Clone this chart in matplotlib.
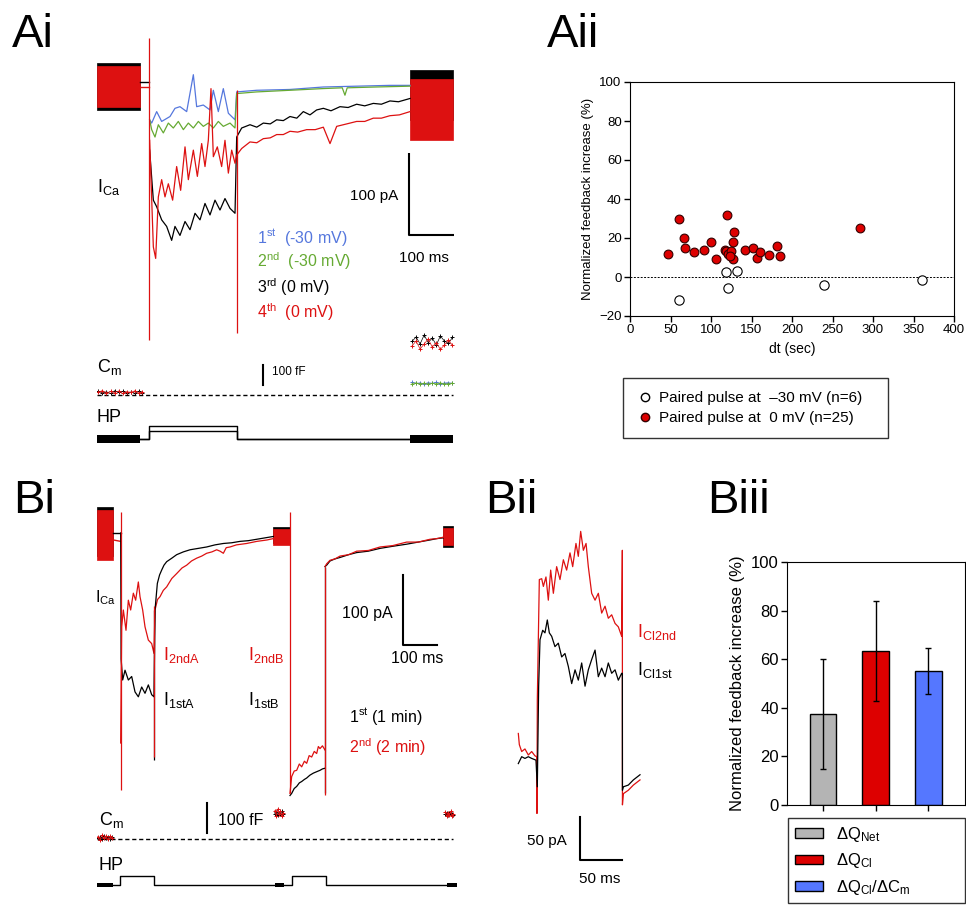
import matplotlib
matplotlib.use("Agg")
import matplotlib.pyplot as plt
from matplotlib.lines import Line2D
from matplotlib.patches import Patch

plt.rcParams["font.family"] = ["Liberation Sans", "DejaVu Sans"]
plt.rcParams["mathtext.fontset"] = "custom"
plt.rcParams["mathtext.rm"] = "Liberation Sans"
plt.rcParams["mathtext.it"] = "Liberation Sans:italic"
plt.rcParams["mathtext.default"] = "regular"

RED = "#dd1111"
BLUE = "#5577dd"
GREEN = "#66aa33"

# ---------------- Ai : I_Ca traces (ms, pA) ----------------
ai_pre_t = [0, 95.6]
ai_pre_blk = (-28, 29)
ai_pre_red = (-25, 26)
ai_post_t = [695.6, 791]
ai_post_blk = (-40, 21)
ai_post_red = (-65, 10)
ai_step_t = [95.6, 115.6]
ai_step_blk = [6, 6]
ai_step_red = [0, 0]

ai_t_blue = [117, 121.5, 132.6, 143.7, 162.2, 173.3, 184.4, 199.3, 214.1, 221.5, 236.3, 251.1,
             258.5, 269.6, 280.7, 291.9, 306.7, 310.4, 354.8, 428.9, 503, 577, 651, 695.6]
ai_v_blue = [-40, -44, -30, -42, -36, -26, -24, -30, 15, -24, -22, -28,
             -4, -30, -2, -32, -40, -6, -4, -3, 0, 1, 2, 2]

ai_t_green = [117, 121.5, 128.9, 136.3, 147.4, 158.5, 169.6, 180.7, 191.9, 203, 214.1, 225.2,
              236.3, 247.4, 258.5, 269.6, 280.7, 295.6, 306.7, 310.4, 354.8, 428.9, 500,
              545, 551, 556, 620, 695.6]
ai_v_green = [-40, -52, -61, -46, -56, -44, -50, -42, -52, -44, -50, -42,
              -48, -44, -50, -42, -48, -44, -50, -8, -6, -4, -2,
              -1, -10, -1, 0, 1]

ai_t_black = [117, 125.2, 132.6, 143.7, 154.8, 165.9, 173.3, 184.4, 195.6, 206.7, 217.8, 228.9,
              240, 251.1, 262.2, 273.3, 284.4, 295.6, 306.7, 310.4, 321.5, 340, 355, 369.6,
              385, 399.3, 414, 428.9, 444, 458.5, 473.3, 488, 503, 520, 540, 558, 577, 595,
              614, 632, 651, 670, 695.6]
ai_v_black = [-77, -138, -146, -162, -170, -187, -170, -181, -164, -174, -154, -162,
              -142, -156, -138, -150, -136, -148, -154, -61, -50, -46, -49, -44,
              -45, -40, -41, -36, -38, -30, -34, -28, -26, -29, -24, -25, -21, -23,
              -20, -21, -17, -18, -14]

ai_t_red = [117, 125.2, 130.4, 136.3, 143.7, 151.1, 158.5, 168.1, 177, 185.9, 195.6, 203,
            214.1, 223, 232.6, 240, 247.4, 253.3, 258.5, 267.4, 277, 284.4, 291.9, 299.3,
            306.7, 310.4, 321.5, 340, 355, 369.6, 385, 399.3, 414, 428.9, 446, 465.9, 485,
            503, 517.8, 532.6, 555, 577, 595, 614, 632, 651, 672, 695.6]
ai_v_red = [-65, -195, -209, -134, -113, -134, -118, -138, -97, -126, -73, -113,
            -77, -109, -69, -97, -65, -2, -85, -73, -97, -65, -105, -77,
            -93, -83, -75, -67, -68, -63, -62, -58, -58, -54, -55, -52, -52,
            -49, -69, -48, -45, -42, -42, -38, -38, -35, -34, -30]

ai_spike_t = [115.6, 310.4]
ai_spike_top = [60, -4]
ai_spike_bot = [-308, -300]

ai_legend = ["1$^{st}$  (-30 mV)", "2$^{nd}$  (-30 mV)", "3$^{rd}$ (0 mV)", "4$^{th}$  (0 mV)"]

# Ai : C_m (ms, fF)
ai_cm_pre_t = [3, 12, 21, 30, 39, 48, 57, 66, 75, 84, 93, 100]
ai_cm_pre_red = [14, 22, 9, 18, 12, 20, 8, 17, 13, 21, 10, 16]
ai_cm_pre_blk = [19, 11, 16, 8, 21, 13, 18, 10, 15, 9, 19, 12]
ai_cm_post_t = [700, 709, 718, 727, 736, 745, 754, 763, 772, 781, 790]
ai_cm_post_blue = [63, 58, 61, 56, 62, 59, 64, 57, 60, 62, 58]
ai_cm_post_green = [57, 61, 55, 60, 54, 58, 56, 61, 55, 57, 60]
ai_cm_post_red = [245, 270, 230, 255, 280, 240, 262, 228, 250, 275, 248]
ai_cm_post_blk = [268, 290, 255, 300, 262, 285, 250, 295, 270, 258, 288]

# Ai : holding potential (ms, mV)
ai_hp_t = [95.6, 115.6, 115.6, 310.4, 310.4, 695.6]
ai_hp_0 = [-80, -80, 0, 0, -80, -80]
ai_hp_30 = [-80, -80, -30, -30, -80, -80]
ai_hp_blocks = [(0, 95.6), (695.6, 791)]

# ---------------- Aii : scatter ----------------
red_dt = [47, 61, 67, 68, 79, 91, 100, 106, 120, 117, 118, 121, 125, 128, 127, 127, 123,
          142, 152, 157, 161, 171, 181, 185, 284]
red_inc = [12, 30, 20, 15, 13, 14, 18, 9, 32, 14, 13.5, 12, 13.5, 23, 18, 9, 11,
           14, 15, 10, 13, 11.5, 16, 11, 25]
open_dt = [61, 119, 121, 132, 240, 360]
open_inc = [-12, 2.5, -5.5, 3, -4, -1.5]

# ---------------- Bi : traces (ms, pA) ----------------
bi_pre_t = [0, 48]
bi_pre_blk = (-33, 37)
bi_pre_red = (-39, 33)
bi_step_t = [48, 69.6]
bi_step_blk = [0, 0]
bi_step_red = [-10, -12]

bi_t_red_a = [69.6, 72.5, 77.5, 85.3, 92.2, 99, 106.9, 113.7, 121.6, 126.5, 134.3, 141.2, 151,
              160.8, 167.6, 170.6, 178, 185.3, 195, 204.9, 220, 234.3, 250, 263.7, 278,
              293.1, 308, 322.5, 338, 352, 362, 371.6, 380, 391.2, 410, 440.2, 470, 500, 518.6]
bi_v_red_a = [-300, -134, -110, -139, -96, -110, -86, -96, -70, -91, -110, -134, -153,
              -158, -172, -110, -95, -91, -82, -77, -65, -58, -50, -46, -40,
              -36, -33, -29, -27, -24, -26, -29, -21, -20, -17, -15, -12, -10, -8]
bi_t_blk_a = [69.6, 71, 75.5, 82.4, 92.2, 102, 111.8, 121.6, 131.4, 141.2, 151, 160.8, 167.6,
              170.6, 177.5, 184, 190.2, 197, 204.9, 220, 234.3, 254, 273.5, 298, 322.5, 347,
              371.6, 396, 420.6, 445, 469.6, 494, 518.6]
bi_v_blk_a = [0, -180, -210, -196, -210, -205, -227, -234, -220, -229, -217, -231, -234,
              -110, -72, -60, -53, -46, -41, -36, -31, -27, -24, -22, -20, -17,
              -15, -14, -12, -11, -9, -7, -5]

bi_mid_t = [518.6, 567.6]
bi_mid_blk = (-15, 9)
bi_mid_red = (-17, 5)

bi_t_red_b = [567.6, 572.5, 580, 587.3, 595, 602, 610, 616.7, 624, 631.4, 639, 646.1, 651,
              655.9, 663, 670.6]
bi_v_red_b = [-372, -348, -340, -339, -330, -334, -326, -329, -318, -320, -312, -315, -305,
              -308, -304, -310]
bi_t_blk_b = [567.6, 572.5, 580, 587.3, 595, 602, 610, 616.7, 626, 636.3, 646, 655.9, 663, 670.6]
bi_v_blk_b = [-375, -372, -365, -362, -357, -355, -352, -350, -346, -343, -341, -339, -337, -336]

bi_t_tail = [670.6, 675.5, 685.3, 700, 714.7, 740, 763.7, 798, 832.4, 870, 910.8, 945, 979.4,
             1000, 1018.6]
bi_v_red_tail = [-48, -44, -39, -37, -33, -31, -26, -25, -20, -18, -13, -13, -9, -8, -6]
bi_v_blk_tail = [-48, -46, -40, -37, -35, -31, -28, -26, -22, -19, -16, -13, -10, -8, -7]

bi_end_t = [1018.6, 1048]
bi_end_blk = (-20, 10)
bi_end_red = (-17, 7)

bi_spike_red_t = [69.6, 167.6, 567.6, 670.6]
bi_spike_red_top = [30.5, -105, 30.5, -48]
bi_spike_red_bot = [-367, -320, -372, -374]
bi_spike_blk_t = [167.6, 670.6]
bi_spike_blk_top = [-110, -48]
bi_spike_blk_bot = [-324, -372]

# Bi : C_m (ms, fF)
bi_cm_t = [[2, 8, 14, 20, 26, 32, 38, 44],
           [523, 527, 531, 535, 539, 543, 547],
           [1024, 1028, 1032, 1036, 1040, 1044, 1048]]
bi_cm_red = [[8, -2, 12, 3, 10, -1, 9, 4],
             [95, 78, 100, 82, 92, 76, 88],
             [90, 76, 86, 80, 92, 78, 84]]
bi_cm_blk = [[2, 7, 0, 9, 3, 6, -1, 5],
             [85, 90, 80, 88, 84, 92, 82],
             [82, 86, 80, 88, 83, 85, 81]]

# Bi : holding potential (ms, mV)
bi_hp_t = [48, 67.6, 67.6, 167.6, 167.6, 523.5, 550, 572.5, 572.5, 673.5, 673.5, 1028]
bi_hp_v = [-80, -80, 0, 0, -80, -80, -80, -80, 0, 0, -80, -80]
bi_hp_blocks = [(0, 48), (523.5, 550), (1028, 1058)]

# ---------------- Bii : I_Cl traces (ms, pA) ----------------
bii_t_red = [0.4, 1.6, 4.4, 8.3, 12.3, 16.3, 20.2, 22.2, 22.6, 23, 25.4, 28.2, 30.2, 33.3, 36.1,
             38.9, 42.1, 46, 50, 54, 57.9, 61.9, 65.1, 69, 71.8, 74.6, 77.8, 81, 83.7, 87.7,
             91.7, 95.6, 99.6, 103.6, 107.5, 111.5, 115.5, 119.4, 123.4, 124.2, 124.3, 125.4,
             131.3, 137.3, 145.2]
bii_v_red = [25, 12, 4, 7, 0, 4, -1, -2, -68, 64, 204, 205, 196, 207, 180,
             215, 188, 219, 204, 227, 215, 235, 219, 246, 231, 260, 238, 246, 219, 188,
             180, 188, 165, 173, 159, 163, 153, 149, 138, 238, -58, -45,
             -41, -35, -29]
bii_t_blk = [0.4, 4.4, 8.3, 12.3, 16.3, 21.4, 23, 24.6, 26.2, 29.4, 32.1, 34.9, 37.3, 40.1, 44,
             48, 52, 55.9, 59.9, 63.9, 67.9, 71.8, 75.8, 79.8, 83.7, 87.7, 91.7, 95.6, 99.6,
             103.6, 107.5, 111.5, 115.5, 119.4, 123.4, 124.2, 124.3, 125.4, 131.3, 137.3, 145.2]
bii_v_blk = [-10, -2, -4, -2, -4, -6, -37, 80, 134, 145, 142, 157, 142, 138, 126,
             130, 114, 118, 103, 83, 99, 87, 107, 80, 99, 111, 122, 91, 101,
             91, 107, 95, 99, 87, 95, 95, -41, -37, -35, -29, -23]

# ---------------- Biii : bars ----------------
bar_labels = ["\u0394Q$_{Net}$", "\u0394Q$_{Cl}$", "\u0394Q$_{Cl}$/\u0394C$_m$"]
bar_means = [37.5, 63.3, 55.2]
bar_err = [22.5, 20.5, 9.5]
bar_colors = ["#b4b4b4", "#dd0000", "#5577ff"]

W, H = 966, 906
fig = plt.figure(figsize=(W / 100, H / 100), dpi=100)


def box(x0, y0, x1, y1):
    return fig.add_axes([x0 / W, 1 - y1 / H, (x1 - x0) / W, (y1 - y0) / H])


def ftext(x, y, s, **kw):
    fig.text(x / W, 1 - y / H, s, va="baseline", **kw)


def trace_ax(x0, y0, x1, y1, xlim, ylim):
    ax = box(x0, y0, x1, y1)
    ax.set_xlim(*xlim)
    ax.set_ylim(*ylim)
    ax.set_axis_off()
    return ax


def block(ax, t, env, color):
    ax.fill_between(t, [env[0]] * 2, [env[1]] * 2, color=color, lw=0.5)


LW = 0.9

# ===== Ai =====
ax = trace_ax(97, 35, 457, 345, (0, 800), (-314.6, 63.4))
block(ax, ai_pre_t, ai_pre_blk, "black")
block(ax, ai_pre_t, ai_pre_red, RED)
block(ax, ai_post_t, ai_post_blk, "black")
block(ax, ai_post_t, ai_post_red, RED)
ax.plot(ai_step_t, ai_step_blk, color="black", lw=1)
ax.plot(ai_step_t, ai_step_red, color=RED, lw=1)
ax.plot(ai_t_black, ai_v_black, color="black", lw=LW)
ax.plot(ai_t_blue, ai_v_blue, color=BLUE, lw=LW)
ax.plot(ai_t_green, ai_v_green, color=GREEN, lw=LW)
ax.plot(ai_t_red, ai_v_red, color=RED, lw=LW)
ax.vlines(ai_spike_t, ai_spike_bot, ai_spike_top, color=RED, lw=0.9)
# scale bar 100 pA / 100 ms
ax.plot([693, 693, 793], [-80, -180, -180], color="black", lw=1.5, solid_capstyle="butt")
ax.text(669, -137.8, "100 pA", ha="right", va="baseline", fontsize=11)
ax.text(725.6, -213, "100 ms", ha="center", va="baseline", fontsize=11)
for lab, col, yy in zip(ai_legend, [BLUE, GREEN, "black", RED], [-190, -219.5, -251, -281.7]):
    ax.text(355.6, yy, lab, color=col, ha="left", va="baseline", fontsize=11.5)

ax = trace_ax(97, 330, 457, 400, (0, 800), (-25, 325))
ax.plot([0, 791], [0, 0], color="black", lw=1, ls=(0, (3, 2)))
for t, v, c in [(ai_cm_pre_t, ai_cm_pre_blk, "black"), (ai_cm_pre_t, ai_cm_pre_red, RED),
                (ai_cm_post_t, ai_cm_post_blue, BLUE), (ai_cm_post_t, ai_cm_post_green, GREEN),
                (ai_cm_post_t, ai_cm_post_blk, "black"), (ai_cm_post_t, ai_cm_post_red, RED)]:
    ax.plot(t, v, color=c, lw=0.5, marker="+", ms=3, mew=0.7)
ax.plot([368, 368], [50, 150], color="black", lw=1.5)
ax.text(389, 100, "100 fF", ha="left", va="baseline", fontsize=8.5)

ax = trace_ax(97, 405, 457, 450, (0, 800), (-148, 129))
ax.plot(ai_hp_t, ai_hp_0, color="black", lw=1)
ax.plot(ai_hp_t, ai_hp_30, color="black", lw=1)
for a, b in ai_hp_blocks:
    ax.fill_between([a, b], [-104, -104], [-56, -56], color="black", lw=0)

ftext(97, 192, "I$_{Ca}$", fontsize=13)
ftext(97, 372, "C$_m$", fontsize=13)
ftext(97, 422, "HP", fontsize=13)

# ===== Aii =====
ax = box(630, 82, 954, 316)
ax.axhline(0, color="black", lw=0.7, ls=(0, (2, 1.5)))
ax.scatter(open_dt, open_inc, s=45, facecolor="white", edgecolor="black", lw=0.8, zorder=3)
ax.scatter(red_dt, red_inc, s=40, facecolor="#dd0000", edgecolor="#330000", lw=0.8, zorder=3)
ax.set_xlim(0, 400)
ax.set_ylim(-20, 100)
ax.set_xticks(range(0, 401, 50))
ax.set_yticks(range(-20, 101, 20))
ax.tick_params(direction="out", length=4, width=1, labelsize=9.5, pad=2)
ax.set_xlabel("dt (sec)", fontsize=10, labelpad=4)
ax.set_ylabel("Normalized feedback increase (%)", fontsize=9.5, labelpad=4)
handles = [Line2D([], [], marker="o", ls="none", mfc="white", mec="black", ms=6),
           Line2D([], [], marker="o", ls="none", mfc="#dd0000", mec="#330000", ms=6)]
leg = fig.legend(handles, ["Paired pulse at  \u201330 mV (n=6)", "Paired pulse at  0 mV (n=25)"],
                 loc="upper left", bbox_to_anchor=(623 / W, 0, 265 / W, 1 - 378 / H),
                 mode="expand", borderaxespad=0, fontsize=11, frameon=True, fancybox=False,
                 edgecolor="black", handletextpad=0.3, handlelength=1.2, borderpad=0.85,
                 labelspacing=0.4)
leg.get_frame().set_linewidth(1)

# ===== Bi =====
ax = trace_ax(97, 500, 457, 800, (0, 1058.8), (-381.4, 47.1))
block(ax, bi_pre_t, bi_pre_blk, "black")
block(ax, bi_pre_t, bi_pre_red, RED)
block(ax, bi_mid_t, bi_mid_blk, "black")
block(ax, bi_mid_t, bi_mid_red, RED)
block(ax, bi_end_t, bi_end_blk, "black")
block(ax, bi_end_t, bi_end_red, RED)
ax.plot(bi_step_t, bi_step_blk, color="black", lw=1)
ax.plot(bi_step_t, bi_step_red, color=RED, lw=1)
ax.plot(bi_t_red_a, bi_v_red_a, color=RED, lw=LW)
ax.plot(bi_t_blk_a, bi_v_blk_a, color="black", lw=LW)
ax.plot(bi_t_blk_b, bi_v_blk_b, color="black", lw=LW)
ax.plot(bi_t_red_b, bi_v_red_b, color=RED, lw=LW)
ax.plot(bi_t_tail, bi_v_blk_tail, color="black", lw=LW)
ax.plot(bi_t_tail, bi_v_red_tail, color=RED, lw=LW)
ax.vlines(bi_spike_blk_t, bi_spike_blk_bot, bi_spike_blk_top, color="black", lw=0.9)
ax.vlines(bi_spike_red_t, bi_spike_red_bot, bi_spike_red_top, color=RED, lw=0.9)
ax.plot([900, 900, 1000], [-60, -160, -160], color="black", lw=1.5)
ax.text(870.6, -121.4, "100 pA", ha="right", va="baseline", fontsize=11.5)
ax.text(941.2, -185.7, "100 ms", ha="center", va="baseline", fontsize=11.5)
ax.text(194.1, -181.4, "I$_{2ndA}$", color=RED, va="baseline", fontsize=13)
ax.text(194.1, -245.7, "I$_{1stA}$", color="black", va="baseline", fontsize=13)
ax.text(444.1, -181.4, "I$_{2ndB}$", color=RED, va="baseline", fontsize=13)
ax.text(444.1, -245.7, "I$_{1stB}$", color="black", va="baseline", fontsize=13)
ax.text(741.2, -270, "1$^{st}$ (1 min)", color="black", va="baseline", fontsize=11.5)
ax.text(741.2, -314.3, "2$^{nd}$ (2 min)", color=RED, va="baseline", fontsize=11.5)

ax = trace_ax(97, 798, 457, 850, (0, 1058.8), (-36.7, 136.7))
ax.plot([0, 1048], [0, 0], color="black", lw=1, ls=(0, (3, 2)))
for t, vb, vr in zip(bi_cm_t, bi_cm_blk, bi_cm_red):
    ax.plot(t, vb, color="black", lw=0.5, marker="+", ms=3, mew=0.7)
    ax.plot(t, vr, color=RED, lw=0.5, marker="+", ms=3, mew=0.7)
ax.plot([323.5, 323.5], [20, 120], color="black", lw=1.5)
ax.text(356, 46.7, "100 fF", ha="left", va="baseline", fontsize=11.5)

ax = trace_ax(97, 855, 457, 900, (0, 1058.8), (-213.3, 186.7))
ax.plot(bi_hp_t, bi_hp_v, color="black", lw=1)
for a, b in bi_hp_blocks:
    ax.fill_between([a, b], [-102, -102], [-58, -58], color="black", lw=0)

ftext(95, 602, "I$_{Ca}$", fontsize=11.5)
ftext(99, 825, "C$_m$", fontsize=13)
ftext(98, 870, "HP", fontsize=13)

# ===== Bii =====
ax = trace_ax(510, 500, 650, 885, (-9.5, 157.1), (-151.2, 296.5))
ax.plot(bii_t_red, bii_v_red, color=RED, lw=LW)
ax.plot(bii_t_blk, bii_v_blk, color="black", lw=LW)
ax.plot([73.8, 73.8, 123.8], [-72, -122.1, -122.1], color="black", lw=1.5)
ax.text(58.3, -104.7, "50 pA", ha="right", va="baseline", fontsize=11)
ax.text(97.6, -148.8, "50 ms", ha="center", va="baseline", fontsize=11)
ax.text(141.7, 137, "I$_{Cl2nd}$", color=RED, va="baseline", fontsize=13)
ax.text(141.7, 93, "I$_{Cl1st}$", color="black", va="baseline", fontsize=13)

# ===== Biii =====
ax = box(787, 562, 965, 805)
xs = [1, 2, 3]
ax.bar(xs, bar_means, width=0.51, color=bar_colors, edgecolor="black", lw=1,
       yerr=bar_err, capsize=2.5, error_kw=dict(lw=1, capthick=1))
ax.set_xlim(0.314, 3.70)
ax.set_ylim(0, 100)
ax.set_xticks(xs)
ax.set_xticklabels([])
ax.set_yticks(range(0, 101, 20))
ax.tick_params(direction="out", length=4, width=1, labelsize=12, pad=2)
ax.set_ylabel("Normalized feedback increase (%)", fontsize=12, labelpad=4)
handles = [Patch(facecolor=c, edgecolor="black", lw=1) for c in bar_colors]
leg = fig.legend(handles, bar_labels, loc="upper left",
                 bbox_to_anchor=(788 / W, 0, 177 / W, 1 - 818 / H), mode="expand",
                 borderaxespad=0, fontsize=12, frameon=True, fancybox=False, edgecolor="black",
                 handlelength=1.7, handleheight=0.5, handletextpad=0.8,
                 borderpad=0.4, labelspacing=0.45)
leg.get_frame().set_linewidth(1)

# panel labels
ftext(12, 47, "Ai", fontsize=34)
ftext(547, 47, "Aii", fontsize=34)
ftext(13, 513, "Bi", fontsize=34)
ftext(485, 513, "Bii", fontsize=34)
ftext(707, 513, "Biii", fontsize=34)

fig.savefig("out.png", dpi=100)
